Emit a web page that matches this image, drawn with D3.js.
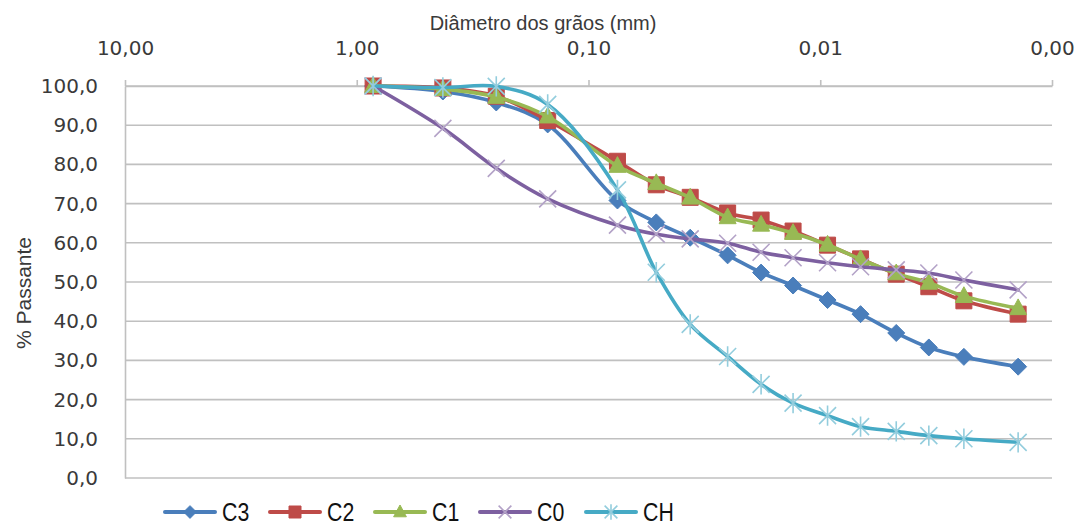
<!DOCTYPE html>
<html>
<head>
<meta charset="utf-8">
<script src="https://cdn.jsdelivr.net/npm/d3@7"></script>
<style>
  html, body { margin: 0; padding: 0; background: #ffffff; }
  svg { display: block; }
</style>
</head>
<body>
<svg id="chart" width="1081" height="526"></svg>
<script>
// ---- data ----
const diameters = [0.85, 0.425, 0.25, 0.15, 0.075, 0.051, 0.0364, 0.0251, 0.018, 0.0131, 0.0093, 0.0067, 0.0047, 0.0034, 0.0024, 0.0014];
const seriesNames = ["C3", "C2", "C1", "C0", "CH"];
const valuesC3 = [100, 98.6, 95.8, 90.2, 70.8, 65.2, 61.3, 56.8, 52.4, 49.1, 45.4, 41.8, 37.0, 33.3, 30.9, 28.4];
const valuesC2 = [100, 99.5, 97.4, 91.2, 80.8, 74.8, 71.6, 67.6, 65.8, 63.0, 59.4, 55.9, 52.0, 48.8, 45.2, 41.8];
const valuesC1 = [100, 99.2, 97.2, 92.2, 79.6, 75.2, 71.5, 66.5, 64.6, 62.5, 59.5, 55.8, 52.2, 49.8, 46.4, 43.3];
const valuesC0 = [100, 89.2, 79.0, 71.2, 64.5, 62.2, 61.0, 59.9, 57.6, 56.2, 54.9, 53.9, 53.1, 52.3, 50.5, 48.0];
const valuesCH = [100, 99.6, 99.9, 95.3, 73.5, 52.5, 39.2, 31.0, 23.9, 19.1, 15.9, 13.1, 11.9, 10.8, 10.0, 9.1];
const xTickValues = [10, 1, 0.1, 0.01, 0.001];
const xTickLabels = ["10,00", "1,00", "0,10", "0,01", "0,00"];
const yTickValues = [0, 10, 20, 30, 40, 50, 60, 70, 80, 90, 100];
const yTickLabels = ["0,0", "10,0", "20,0", "30,0", "40,0", "50,0", "60,0", "70,0", "80,0", "90,0", "100,0"];
const xTitle = "Diâmetro dos grãos (mm)";
const yTitle = "% Passante";

// ---- styles ----
const lineColors = { C3: "#4a7ebb", C2: "#be4b48", C1: "#98b954", C0: "#7d60a0", CH: "#46aac5" };
const markerColors = { C3: "#4a7ebb", C2: "#be4b48", C1: "#98b954", C0: "#b3a2c7", CH: "#93cddd" };
const markerShapes = { C3: "diamond", C2: "square", C1: "triangle", C0: "x", CH: "star" };
const allValues = { C3: valuesC3, C2: valuesC2, C1: valuesC1, C0: valuesC0, CH: valuesCH };

const svg = d3.select("#chart");
const plot = { left: 125, right: 1052, top: 86, bottom: 478 };

const x = d3.scaleLog().domain([10, 0.001]).range([plot.left, plot.right]);
const y = d3.scaleLinear().domain([0, 100]).range([plot.bottom, plot.top]);

const textColor = "#3a3a3a";
const gridColor = "#c0c0c0";

// gridlines
svg.append("g").selectAll("line").data(yTickValues).join("line")
  .attr("x1", plot.left).attr("x2", plot.right)
  .attr("y1", d => y(d)).attr("y2", d => y(d))
  .attr("stroke", gridColor).attr("stroke-width", 1.6);

// y axis
const yAxis = svg.append("g").attr("transform", `translate(${plot.left},0)`)
  .call(d3.axisLeft(y).tickValues(yTickValues).tickSize(0).tickPadding(27)
    .tickFormat((d, i) => yTickLabels[i]));
yAxis.select(".domain").attr("stroke", gridColor).attr("stroke-width", 1.6);
yAxis.selectAll("text").attr("fill", textColor)
  .style("font-family", "'DejaVu Sans', Verdana, sans-serif").style("font-size", "20px");

// x axis (top)
const xAxis = svg.append("g").attr("transform", `translate(0,${plot.top})`)
  .call(d3.axisTop(x).tickValues(xTickValues).tickSize(6).tickSizeOuter(0).tickPadding(25)
    .tickFormat((d, i) => xTickLabels[i]));
xAxis.select(".domain").attr("stroke", gridColor).attr("stroke-width", 1.6);
xAxis.selectAll(".tick line").attr("stroke", gridColor).attr("stroke-width", 1.6);
xAxis.selectAll("text").attr("fill", textColor)
  .style("font-family", "'DejaVu Sans', Verdana, sans-serif").style("font-size", "20px");

// titles
svg.append("text").attr("x", 543).attr("y", 30).attr("text-anchor", "middle")
  .attr("fill", textColor).style("font-family", "'Liberation Sans', Arial, sans-serif")
  .style("font-size", "20px").text(xTitle);
svg.append("text").attr("transform", "translate(31,293) rotate(-90)").attr("text-anchor", "middle")
  .attr("fill", textColor).style("font-family", "'Liberation Sans', Arial, sans-serif")
  .style("font-size", "21px").text(yTitle);

// marker path generator
function markerPath(shape, r) {
  switch (shape) {
    case "diamond": return `M0,${-r}L${r},0L0,${r}L${-r},0Z`;
    case "square": return `M${-r},${-r}H${r}V${r}H${-r}Z`;
    case "triangle": return `M0,${-r * 1.1}L${r},${r * 0.75}L${-r},${r * 0.75}Z`;
    case "x": return `M${-r},${-r}L${r},${r}M${-r},${r}L${r},${-r}`;
    case "star": return `M${-r},${-r}L${r},${r}M${-r},${r}L${r},${-r}M0,${-r * 1.2}V${r * 1.2}`;
  }
}
function drawMarker(g, name, cx, cy, scale) {
  const shape = markerShapes[name];
  const filled = shape === "diamond" || shape === "square" || shape === "triangle";
  const r = { diamond: 8.5, square: 8, triangle: 8.5, x: 8.5, star: 8.5 }[shape] * scale;
  const p = g.append("path").attr("d", markerPath(shape, r))
    .attr("transform", `translate(${cx},${cy})`);
  if (filled) p.attr("fill", markerColors[name]).attr("stroke", markerColors[name]).attr("stroke-width", 1);
  else p.attr("fill", "none").attr("stroke", markerColors[name]).attr("stroke-width", 1.6);
}

const line = d3.line().x(d => x(d[0])).y(d => y(d[1])).curve(d3.curveCatmullRom.alpha(0.5));

seriesNames.forEach(name => {
  const pts = diameters.map((d, i) => [d, allValues[name][i]]);
  const g = svg.append("g");
  g.append("path").datum(pts).attr("d", line)
    .attr("fill", "none").attr("stroke", lineColors[name]).attr("stroke-width", 3.6)
    .attr("stroke-linejoin", "round").attr("stroke-linecap", "round");
  pts.forEach(p => drawMarker(g, name, x(p[0]), y(p[1]), 1));
});

// legend
const legendStarts = [165, 270, 375, 480, 586];
const legendY = 512;
seriesNames.forEach((name, i) => {
  const g = svg.append("g");
  const s = legendStarts[i];
  g.append("line").attr("x1", s).attr("x2", s + 50).attr("y1", legendY).attr("y2", legendY)
    .attr("stroke", lineColors[name]).attr("stroke-width", 4).attr("stroke-linecap", "round");
  drawMarker(g, name, s + 25, legendY, 0.75);
  g.append("text").attr("transform", `translate(${s + 57},${legendY + 9}) scale(0.82,1)`)
    .attr("fill", "#111").style("font-family", "'Liberation Sans', Arial, sans-serif")
    .style("font-size", "26px").text(name);
});
</script>
</body>
</html>
